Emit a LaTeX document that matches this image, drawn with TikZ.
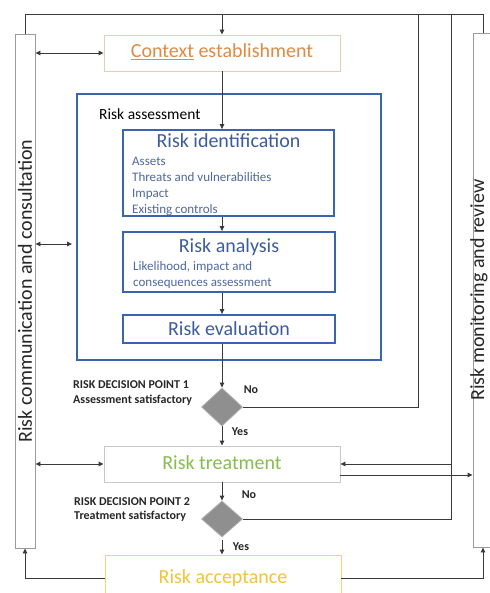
\documentclass[tikz,border=0pt]{standalone}
\usepackage{fontspec}
\setmainfont{Carlito}
\usetikzlibrary{shapes.geometric,arrows.meta}
\definecolor{linec}{HTML}{3A3A3A}
\definecolor{barc}{HTML}{9A9A9A}
\definecolor{bluec}{HTML}{3A65AE}
\definecolor{bluetext}{HTML}{3C5B9C}
\definecolor{bluesub}{HTML}{4F679E}
\definecolor{orangec}{HTML}{E08A45}
\definecolor{ctxborder}{HTML}{E6CDB3}
\definecolor{greenc}{HTML}{86BD4E}
\definecolor{grayborder}{HTML}{C9C9C9}
\definecolor{yellowc}{HTML}{F0C43C}
\definecolor{yellowborder}{HTML}{F3D670}
\definecolor{dfill}{HTML}{8F8F8F}
\definecolor{dborder}{HTML}{B0B0B0}
\definecolor{labc}{HTML}{262626}
\begin{document}
\begin{tikzpicture}[x=1pt,y=-1pt,
  conn/.style={draw=linec, line width=0.9pt},
  arr/.style={conn, -{Triangle[length=5pt,width=4.5pt]}},
  darr/.style={conn, {Triangle[length=5pt,width=4.5pt]}-{Triangle[length=5pt,width=4.5pt]}},
  sidebar/.style={draw=barc, line width=0.9pt, fill=white, minimum width=20pt, minimum height=514pt, inner sep=0pt},
  bartext/.style={rotate=90, font=\fontsize{20}{24}\selectfont, text=black!85, inner sep=0pt},
  bluebox/.style={draw=bluec, line width=1.8pt, inner sep=0pt},
  bigtitle/.style={anchor=base, font=\fontsize{20}{24}\selectfont, text=bluetext, inner sep=0pt},
  subtext/.style={anchor=base west, font=\fontsize{13}{16}\selectfont, text=bluesub, inner sep=0pt},
  flowbox/.style={line width=0.9pt, fill=white, minimum width=236pt, minimum height=36pt, inner sep=0pt,
     font=\fontsize{20}{24}\selectfont, text height=14pt, text depth=4pt},
  decision/.style={diamond, draw=dborder, fill=dfill, line width=0.8pt, minimum width=41pt, minimum height=38pt, inner sep=0pt},
  dlabel/.style={anchor=base west, font=\bfseries\fontsize{12}{14}\selectfont, text=labc, inner sep=0pt},
  yn/.style={font=\bfseries\fontsize{12}{14}\selectfont, text=labc, inner sep=0pt}]
\useasboundingbox (0,0) rectangle (489,593);

% side bars
\node[sidebar] (lbar) at (25,291) {};
\node[bartext] (lbartext) at (25,291) {Risk communication and consultation};
\node[sidebar] (rbar) at (483,290) {};
\node[bartext] (rbartext) at (479,290) {Risk monitoring and review};

% main boxes
\node[flowbox, draw=ctxborder, text=orangec] (ctx) at (222,53) {{\color{orangec}\underline{Context}} establishment};
\node[bluebox, minimum width=304pt, minimum height=266pt] (ra) at (229,227) {};
\node[anchor=base west, font=\fontsize{15.5}{18}\selectfont, text=black, inner sep=0pt] (ralabel) at (99,120) {Risk assessment};

\node[bluebox, minimum width=211pt, minimum height=86pt] (rid) at (228.5,173) {};
\node[bigtitle] (ridt) at (228.5,147.5) {Risk identification};
\node[subtext] (rid1) at (132,165.3) {Assets};
\node[subtext] (rid2) at (132,181.3) {Threats and vulnerabilities};
\node[subtext] (rid3) at (132,197.3) {Impact};
\node[subtext] (rid4) at (132,213.3) {Existing controls};

\node[bluebox, minimum width=212pt, minimum height=60pt] (ran) at (229,262) {};
\node[bigtitle] (rant) at (229,252.5) {Risk analysis};
\node[subtext] (ran1) at (133,270.3) {Likelihood, impact and};
\node[subtext] (ran2) at (133,286.3) {consequences assessment};

\node[bluebox, minimum width=212pt, minimum height=28pt] (rev) at (229,329) {};
\node[bigtitle] (revt) at (229,335.5) {Risk evaluation};

\node[decision] (d1) at (222,407) {};
\node[dlabel] (dp1a) at (73,388) {RISK DECISION POINT 1};
\node[dlabel] (dp1b) at (73,403) {Assessment satisfactory};
\node[yn] (no1) at (251,390) {No};
\node[yn] (yes1) at (240,432) {Yes};

\node[flowbox, draw=grayborder, text=greenc] (tr) at (222,464) {Risk treatment};

\node[decision, minimum height=36pt] (d2) at (222,519) {};
\node[dlabel] (dp2a) at (74,505) {RISK DECISION POINT 2};
\node[dlabel] (dp2b) at (74,519) {Treatment satisfactory};
\node[yn] (no2) at (249,495) {No};
\node[yn] (yes2) at (241,547) {Yes};

\node[flowbox, draw=yellowborder, text=yellowc, minimum height=46pt] (acc) at (223,578) {Risk acceptance};

% coordinates
\coordinate (top) at (222,14);
\coordinate (c1) at (418,14);
\coordinate (c2) at (451,14);
\coordinate (ramid) at (77,244);
\coordinate (tro) at (340,475);

% connectors
\draw[conn] (lbar.north) -- (lbar.north |- top) -- (rbar.north |- top) -- (rbar.north);
\draw[arr] (top) -- (ctx.north);
\draw[arr] (ctx.south) -- (ctx.south |- rid.north);
\draw[arr] (rid.south -| ctx.south) -- (ctx.south |- ran.north);
\draw[arr] (ran.south -| ctx.south) -- (ctx.south |- rev.north);
\draw[arr] (rev.south -| ctx.south) -- (d1.north);
\draw[conn] (d1.east) -| (c1);
\draw[arr] (d1.south) -- (tr.north);
\draw[arr] (tr.south) -- (d2.north);
\draw[conn] (d2.east) -| (c2);
\draw[arr] (c2 |- tr.east) -- (tr.east);
\draw[arr] (tro) -- (tro -| rbar.west);
\draw[arr, shorten <=3pt] (d2.south) -- (d2.south |- acc.north);
\draw[darr] (lbar.east |- ctx.west) -- (ctx.west);
\draw[darr, shorten >=5pt] (lbar.east |- ramid) -- (ramid);
\draw[darr] (lbar.east |- tr.west) -- (tr.west);
\draw[arr] (acc.west) -| (lbar.south);
\draw[arr] (acc.east) -| (rbar.south);
\end{tikzpicture}
\end{document}
